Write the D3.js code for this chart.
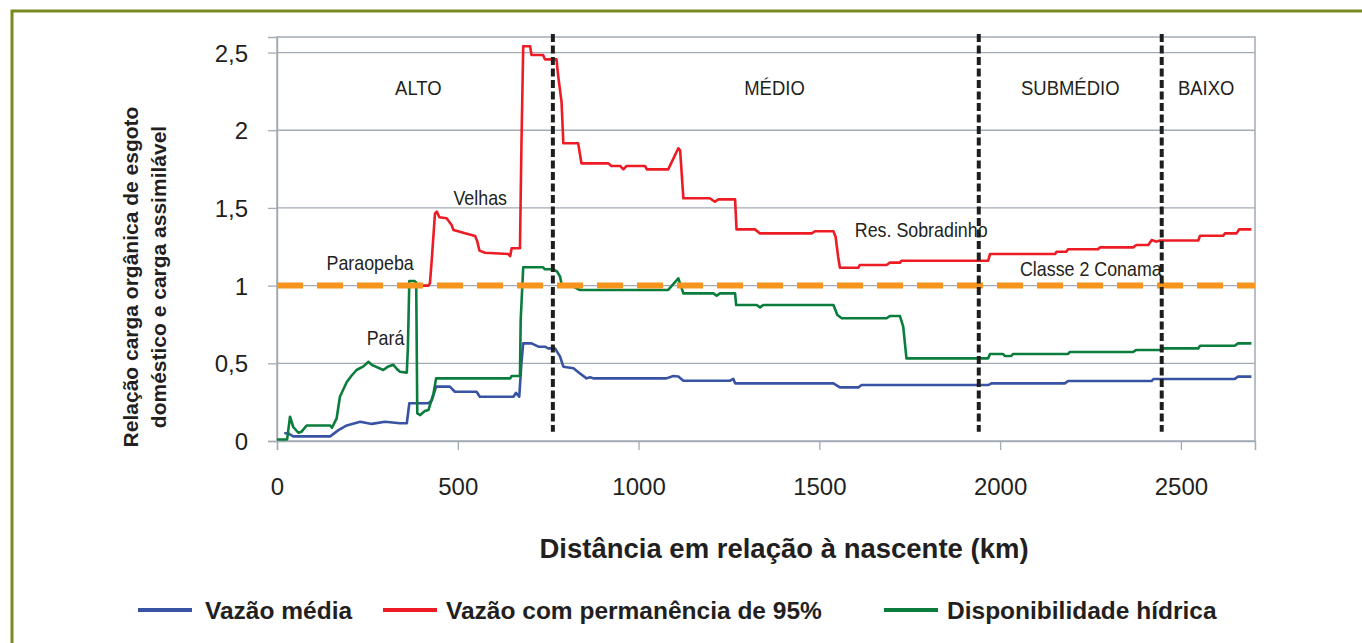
<!DOCTYPE html>
<html>
<head>
<meta charset="utf-8">
<script src="https://cdnjs.cloudflare.com/ajax/libs/d3/7.8.5/d3.min.js"></script>
<style>
  body { margin: 0; background: #fff; }
  svg { display: block; }
</style>
</head>
<body>
<div id="chart"></div>
<script>
var svgWidth = 1362;
var svgHeight = 643;

// [distância (km), relação]
var vazaoMedia = [
  [20, 0.05], [30, 0.05], [45, 0.03], [147, 0.03], [170, 0.07], [193, 0.10], [230, 0.124],
  [262, 0.11], [299, 0.124], [340, 0.114], [359, 0.114], [366, 0.243], [419, 0.243],
  [428, 0.26], [440, 0.35], [478, 0.35], [492, 0.317], [552, 0.317], [561, 0.285],
  [654, 0.285], [661, 0.31], [670, 0.285], [676, 0.50], [681, 0.628], [704, 0.628],
  [723, 0.607], [741, 0.607], [750, 0.596], [769, 0.596], [783, 0.543], [792, 0.478],
  [820, 0.468], [838, 0.435], [856, 0.403], [866, 0.41], [875, 0.403], [1077, 0.403],
  [1096, 0.418], [1110, 0.415], [1124, 0.388], [1253, 0.388], [1262, 0.40], [1267, 0.371],
  [1539, 0.371], [1557, 0.345], [1608, 0.345], [1617, 0.36], [1967, 0.36], [1976, 0.371],
  [2179, 0.371], [2188, 0.386], [2419, 0.386], [2424, 0.399], [2649, 0.399], [2658, 0.414],
  [2695, 0.414]
];

var vazao95 = [
  [388, 1.0], [419, 1.0], [423, 1.015], [428, 1.165], [437, 1.465], [442, 1.476], [449, 1.44],
  [469, 1.433], [483, 1.39], [488, 1.358], [506, 1.347], [520, 1.337], [548, 1.32],
  [554, 1.283], [560, 1.225], [575, 1.212], [640, 1.203], [645, 1.19], [649, 1.24],
  [672, 1.24], [676, 1.894], [681, 2.54], [700, 2.54], [704, 2.484], [736, 2.484],
  [741, 2.456], [773, 2.456], [778, 2.344], [787, 2.183], [792, 1.916], [833, 1.916],
  [842, 1.787], [916, 1.787], [925, 1.77], [949, 1.77], [958, 1.748], [967, 1.77],
  [1018, 1.77], [1023, 1.748], [1082, 1.748], [1110, 1.884], [1115, 1.87], [1124, 1.562],
  [1197, 1.562], [1211, 1.54], [1221, 1.555], [1267, 1.555], [1271, 1.362], [1322, 1.362],
  [1336, 1.336], [1479, 1.336], [1488, 1.35], [1539, 1.35], [1545, 1.315], [1552, 1.186],
  [1557, 1.115], [1608, 1.115], [1612, 1.133], [1686, 1.133], [1695, 1.148], [1723, 1.148],
  [1727, 1.16], [1967, 1.16], [1972, 1.203], [2152, 1.203], [2156, 1.218], [2183, 1.218],
  [2188, 1.234], [2271, 1.234], [2276, 1.246], [2368, 1.246], [2377, 1.261], [2410, 1.261],
  [2419, 1.293], [2433, 1.283], [2442, 1.29], [2548, 1.29], [2553, 1.321], [2617, 1.321],
  [2622, 1.336], [2654, 1.336], [2661, 1.362], [2695, 1.362]
];

var dispHidrica = [
  [0, 0.01], [28, 0.01], [36, 0.156], [45, 0.09], [59, 0.053], [68, 0.06], [82, 0.10],
  [147, 0.10], [152, 0.085], [165, 0.146], [174, 0.285], [193, 0.38], [206, 0.42],
  [220, 0.457], [239, 0.48], [253, 0.51], [262, 0.49], [294, 0.457], [308, 0.48],
  [322, 0.49], [331, 0.465], [340, 0.446], [359, 0.44], [362, 0.6], [366, 1.03], [380, 1.03],
  [385, 1.02], [388, 0.178], [396, 0.167], [409, 0.193], [419, 0.2], [433, 0.307],
  [440, 0.403], [645, 0.403], [649, 0.418], [672, 0.418], [674, 0.779], [681, 1.118],
  [736, 1.118], [741, 1.105], [764, 1.105], [775, 1.09], [783, 1.057], [787, 1.01],
  [810, 1.005], [838, 0.972], [1082, 0.972], [1110, 1.047], [1124, 0.95], [1207, 0.95],
  [1216, 0.935], [1225, 0.95], [1267, 0.95], [1270, 0.875], [1327, 0.875], [1336, 0.86],
  [1345, 0.875], [1539, 0.875], [1550, 0.811], [1562, 0.79], [1686, 0.79], [1695, 0.804],
  [1723, 0.804], [1732, 0.736], [1741, 0.532], [1967, 0.532], [1972, 0.56], [2008, 0.56],
  [2013, 0.547], [2031, 0.547], [2036, 0.56], [2188, 0.56], [2193, 0.573], [2368, 0.573],
  [2377, 0.586], [2447, 0.586], [2451, 0.596], [2548, 0.596], [2553, 0.613], [2649, 0.613],
  [2658, 0.628], [2695, 0.628]
];

var classe2Conama = 1;
var divisoes = [763, 1941, 2447];
var regioes = ["ALTO", "MÉDIO", "SUBMÉDIO", "BAIXO"];
var regioesKm = [391, 1376, 2194, 2570];
var xTicks = [0, 500, 1000, 1500, 2000, 2500];
var yTicks = [0, 0.5, 1, 1.5, 2, 2.5];

var notas = ["Paraopeba", "Pará", "Velhas", "Res. Sobradinho", "Classe 2 Conama"];
var notasKm = [137, 248, 488, 1598, 2055];
var notasVal = [1.1, 0.62, 1.52, 1.31, 1.06];

var seriesNames = ["Vazão média", "Vazão com permanência de 95%", "Disponibilidade hídrica"];
var seriesColors = ["#3953a4", "#ed1c24", "#0a7d3c"];

var svg = d3.select("#chart")
  .append("svg")
  .attr("width", svgWidth)
  .attr("height", svgHeight);

svg.append("rect")
  .attr("width", svgWidth)
  .attr("height", svgHeight)
  .attr("fill", "#fff");

// moldura verde-oliva
svg.append("path")
  .attr("d", "M12,643 L12,11 L1362,11")
  .attr("fill", "none")
  .attr("stroke", "#7a8a22")
  .attr("stroke-width", 3);

var plot = { left: 277, right: 1255, top: 37, bottom: 441 };

var x = d3.scaleLinear()
  .domain([0, 2705])
  .range([plot.left, plot.right]);

var y = d3.scaleLinear()
  .domain([0, 2.6])
  .range([plot.bottom, plot.top]);

var gridColor = "#a3abb5";
var textColor = "#231f20";
var sansFont = "'Liberation Sans', Arial, sans-serif";

// linhas de grade
svg.append("g")
  .selectAll("line")
  .data(yTicks.filter(d => d > 0))
  .enter()
  .append("line")
  .attr("x1", plot.left)
  .attr("x2", plot.right)
  .attr("y1", d => y(d))
  .attr("y2", d => y(d))
  .attr("stroke", gridColor)
  .attr("stroke-width", 1.3);

// borda da área do gráfico
svg.append("rect")
  .attr("x", plot.left)
  .attr("y", plot.top)
  .attr("width", plot.right - plot.left)
  .attr("height", plot.bottom - plot.top)
  .attr("fill", "none")
  .attr("stroke", gridColor)
  .attr("stroke-width", 1.5);

// eixo y
var leftAxis = d3.axisLeft(y)
  .tickValues(yTicks)
  .tickSize(9)
  .tickPadding(20)
  .tickFormat(d => String(d).replace(".", ","));

var yAxis = svg.append("g")
  .attr("transform", `translate(${plot.left}, 0)`)
  .call(leftAxis);

// eixo x
var bottomAxis = d3.axisBottom(x)
  .tickValues(xTicks)
  .tickSize(9)
  .tickPadding(28)
  .tickFormat(d3.format("d"));

var xAxis = svg.append("g")
  .attr("transform", `translate(0, ${plot.bottom})`)
  .call(bottomAxis);

[xAxis, yAxis].forEach(function(ax) {
  ax.select(".domain").attr("stroke", gridColor).attr("stroke-width", 1.5);
  ax.selectAll(".tick line").attr("stroke", gridColor).attr("stroke-width", 1.3);
  ax.selectAll(".tick text")
    .attr("fill", textColor)
    .style("font-family", sansFont)
    .style("font-size", "24px");
});
yAxis.selectAll(".tick text").attr("dy", "0.36em");

// séries
var line = d3.line()
  .x(d => x(d[0]))
  .y(d => y(d[1]));

var seriesData = [vazaoMedia, vazao95, dispHidrica];

svg.append("g")
  .selectAll("path")
  .data(seriesData)
  .enter()
  .append("path")
  .attr("d", line)
  .attr("fill", "none")
  .attr("stroke", (d, i) => seriesColors[i])
  .attr("stroke-width", 2.6)
  .attr("stroke-linejoin", "round");

// Classe 2 Conama
svg.append("line")
  .attr("x1", plot.left)
  .attr("x2", plot.right)
  .attr("y1", y(classe2Conama))
  .attr("y2", y(classe2Conama))
  .attr("stroke", "#f7941d")
  .attr("stroke-width", 6)
  .attr("stroke-dasharray", "26,14");

// divisões das regiões
svg.append("g")
  .selectAll("line")
  .data(divisoes)
  .enter()
  .append("line")
  .attr("x1", d => x(d))
  .attr("x2", d => x(d))
  .attr("y1", y(2.62))
  .attr("y2", y(0.06))
  .attr("stroke", "#1e1e1e")
  .attr("stroke-width", 4)
  .attr("stroke-dasharray", "8,3.5");

// nomes das regiões (texto estreito)
svg.append("g")
  .selectAll("text")
  .data(regioes)
  .enter()
  .append("text")
  .attr("transform", (d, i) => `translate(${x(regioesKm[i])}, 95) scale(0.88, 1)`)
  .attr("text-anchor", "middle")
  .style("font-family", sansFont)
  .style("font-size", "21px")
  .attr("fill", textColor)
  .text(d => d);

// anotações
svg.append("g")
  .selectAll("text")
  .data(notas)
  .enter()
  .append("text")
  .attr("transform", (d, i) => `translate(${x(notasKm[i])}, ${y(notasVal[i])}) scale(0.85, 1)`)
  .style("font-family", sansFont)
  .style("font-size", "21px")
  .attr("fill", textColor)
  .text(d => d);

// títulos dos eixos
svg.append("text")
  .attr("x", 784)
  .attr("y", 558)
  .attr("text-anchor", "middle")
  .style("font-family", sansFont)
  .style("font-weight", "bold")
  .style("font-size", "27.5px")
  .attr("fill", textColor)
  .text("Distância em relação à nascente (km)");

var yTitle = svg.append("text")
  .attr("transform", "translate(131, 277) rotate(-90)")
  .attr("text-anchor", "middle")
  .style("font-family", sansFont)
  .style("font-weight", "bold")
  .style("font-size", "21px")
  .attr("fill", textColor);

yTitle.append("tspan")
  .attr("x", 0)
  .attr("dy", "0.35em")
  .text("Relação carga orgânica de esgoto");

yTitle.append("tspan")
  .attr("x", 0)
  .attr("dy", "1.3em")
  .text("doméstico e carga assimilável");

// legenda
var legendX = [138, 383, 884];
var legend = svg.append("g")
  .selectAll("g")
  .data(seriesNames)
  .enter()
  .append("g")
  .attr("transform", (d, i) => `translate(${legendX[i]}, 610)`);

legend.append("line")
  .attr("x1", 0)
  .attr("x2", 54)
  .attr("stroke", (d, i) => seriesColors[i])
  .attr("stroke-width", 4);

legend.append("text")
  .attr("x", (d, i) => i === 0 ? 67 : 63)
  .attr("dy", "0.36em")
  .style("font-family", sansFont)
  .style("font-weight", "bold")
  .style("font-size", "24.5px")
  .attr("fill", textColor)
  .text(d => d);
</script>
</body>
</html>
